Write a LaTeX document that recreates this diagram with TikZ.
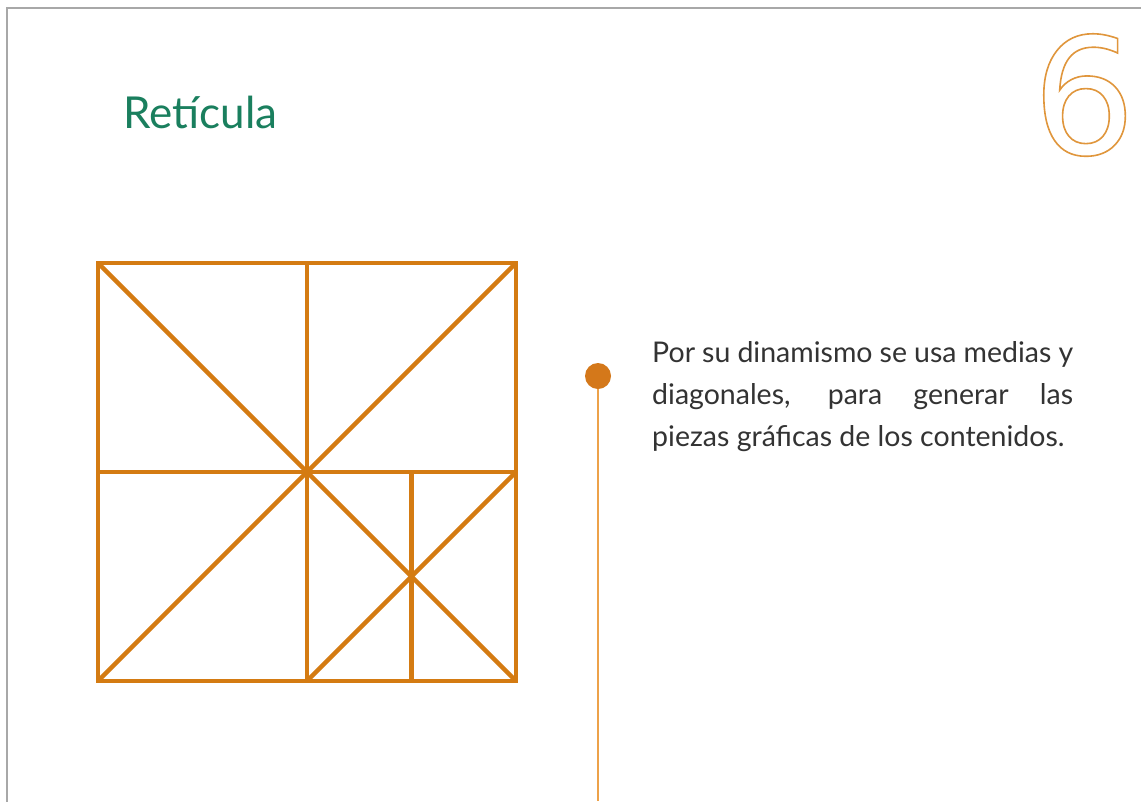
\documentclass[tikz,border=0pt]{standalone}
\usepackage{fontspec}
\setmainfont{Lato}
\newfontfamily\sixfont{DejaVu Sans}
\definecolor{gridorange}{HTML}{D47B12}
\definecolor{dotorange}{HTML}{D4781A}
\definecolor{lineorange}{HTML}{EDA24A}
\definecolor{sixorange}{HTML}{E0963C}
\definecolor{titlegreen}{HTML}{1A7F5E}
\definecolor{bodygray}{HTML}{333333}
\definecolor{framegray}{HTML}{A8A8A8}
\tikzset{
  gridline/.style={draw=gridorange, line width=4.5pt, line cap=butt, line join=miter},
  frameline/.style={draw=framegray, line width=2pt},
  bodytext/.style={anchor=base west, inner sep=0pt, text=bodygray, font=\fontsize{28.5}{32}\selectfont},
}
\begin{document}
\begin{tikzpicture}[x=1pt,y=-1pt]
\clip (0,0) rectangle (1141,801);
\fill[white] (0,0) rectangle (1141,801);
% page frame
\draw[frameline] (7,8) rectangle (1150,820);
% cut-off header glyph
\node[anchor=base, inner sep=0pt, text=gray!80!blue, font=\fontsize{14}{14}\selectfont] (hdr) at (478,-3) {g};
% title
\node[anchor=base west, inner sep=0pt, text=titlegreen, font=\fontsize{44}{44}\selectfont] (title) at (123,128) {Retícula};
% outlined six
\node[anchor=base, inner sep=0pt, text=sixorange, font=\sixfont\fontsize{162}{162}\selectfont] (six) at (1084,154)
  {\special{pdf:code 1 Tr 1.6 w}6\special{pdf:code 0 Tr}};
% grid
\coordinate (tl) at (98,263);
\coordinate (tr) at (516,263);
\coordinate (bl) at (98,681);
\coordinate (br) at (516,681);
\coordinate (tm) at (307,263);
\coordinate (bm) at (307,681);
\coordinate (lm) at (98,472);
\coordinate (rm) at (516,472);
\coordinate (c) at (307,472);
\coordinate (qm) at (411.5,472);
\coordinate (qb) at (411.5,681);
\draw[gridline] (tl) rectangle (br);
\draw[gridline] (tm) -- (bm);
\draw[gridline] (lm) -- (rm);
\draw[gridline] (qm) -- (qb);
\draw[gridline] (tl) -- (c);
\draw[gridline] (tr) -- (c);
\draw[gridline] (bl) -- (c);
\draw[gridline] (c) -- (br);
\draw[gridline] (rm) -- (bm);
% timeline
\node[circle, fill=dotorange, minimum size=26pt, inner sep=0pt] (dot) at (598,376) {};
\coordinate (lineend) at (598,801);
\draw[draw=lineorange, line width=2pt] (dot.south) -- (lineend);
% body text
\node[bodytext] (l1) at (652,362) {\makebox[421pt][s]{Por su dinamismo se usa medias y}};
\node[bodytext] (l2) at (652,404) {\makebox[421pt][s]{diagonales, para generar las}};
\node[bodytext] (l3) at (652,446) {piezas gráficas de los contenidos.};
\end{tikzpicture}
\end{document}
